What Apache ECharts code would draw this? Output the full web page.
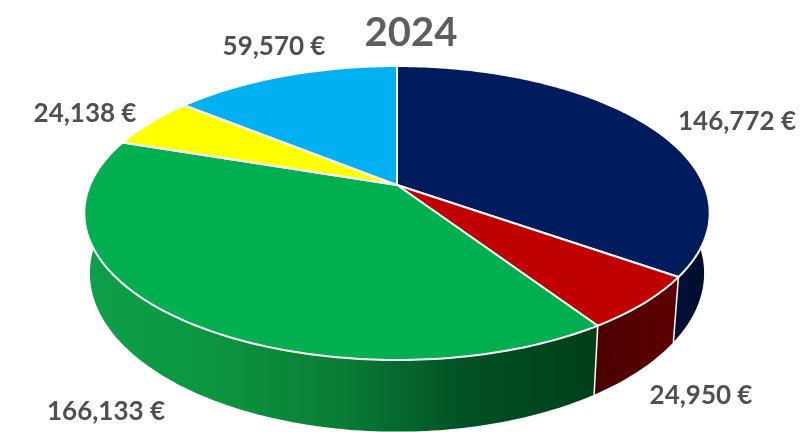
<!DOCTYPE html>
<html>
<head>
<meta charset="utf-8">
<style>html,body{margin:0;padding:0;background:#fff}#chart{width:808px;height:432px}</style>
<script src="https://cdn.jsdelivr.net/npm/echarts@6/dist/echarts.min.js"></script>
</head>
<body>
<div id="chart"></div>
<script>
// ---- data ----
const chartTitle = '2024';
const sliceNames = ['Dark blue', 'Red', 'Green', 'Yellow', 'Light blue'];
const sliceValues = [146772, 24950, 166133, 24138, 59570];
const labelTexts = ['146,772 €', '24,950 €', '166,133 €', '24,138 €', '59,570 €'];

// ---- styles ----
const topColors = ['#001c5e', '#c00000', '#00b050', '#ffff00', '#00b0f0'];
const wallStops = [
  ['#001240', '#000c28'],
  ['#4a0000', '#5e0000'],
  ['#0ea04a', '#0c953f', '#0a7d36', '#025024', '#003f18'],
  ['#b0b000', '#b0b000'],
  ['#0078a8', '#0078a8']
];
const wallSpan = [[660, 710], [595, 675], [85, 595], [85, 190], [190, 400]];
const labelPlace = [[737, 122], [701, 396], [106, 412], [85, 114], [274, 47]];
const LABEL_FONT = 'bold 26px Lato, "Open Sans", sans-serif';

// ---- oblique perspective used by the disc ----
const P = { cx: 397, cy: 185, a: 106.4, c: 307, k: -0.1905, depth: 58, shrink: 0.982 };
function topPoint(deg, r) {
  const t = deg * Math.PI / 180, x = Math.sin(t) * r, y = -Math.cos(t) * r;
  const w = 1 + P.k * y;
  return [P.cx + P.c * x / w, (P.cy + P.a * y) / w];
}
function bottomPoint(deg) {
  const t = deg * Math.PI / 180, y = -Math.cos(t);
  const w = 1 + P.k * y, p = topPoint(deg, 1);
  return [P.cx + (p[0] - P.cx) * P.shrink, p[1] + P.depth / w];
}
const total = sliceValues.reduce((s, v) => s + v, 0);
function angles(i) {
  let acc = 0;
  for (let j = 0; j < i; j++) acc += sliceValues[j];
  return [acc / total * 360, (acc + sliceValues[i]) / total * 360];
}
function arc(a0, a1, fn) {
  const n = Math.max(2, Math.ceil(Math.abs(a1 - a0)));
  const out = [];
  for (let i = 0; i <= n; i++) out.push(fn(a0 + (a1 - a0) * i / n));
  return out;
}
const VIS0 = 78, VIS1 = 282;

function renderWall(params) {
  const i = params.dataIndex;
  const [s, e] = angles(i);
  const a0 = Math.max(s, VIS0), a1 = Math.min(e, VIS1);
  if (a1 <= a0) return { type: 'group', children: [] };
  const upper = arc(a0, a1, d => topPoint(d, 1));
  const lower = arc(a0, a1, bottomPoint);
  const stops = wallStops[i];
  const children = [{
    type: 'polygon',
    shape: { points: upper.concat(lower.slice().reverse()) },
    style: {
      fill: {
        type: 'linear', global: true,
        x: wallSpan[i][0], y: 0, x2: wallSpan[i][1], y2: 0,
        colorStops: stops.map((c, n) => ({ offset: n / (stops.length - 1), color: c }))
      }
    }
  }];
  if (s > VIS0 && s < VIS1) {
    children.push({
      type: 'polyline',
      shape: { points: [topPoint(s, 1), bottomPoint(s)] },
      style: { stroke: '#fff', lineWidth: 1.5, fill: null }
    });
  }
  return { type: 'group', children };
}

function renderTop(params, api) {
  const i = params.dataIndex;
  const [s, e] = angles(i);
  const pts = [topPoint(0, 0)].concat(arc(s, e, d => topPoint(d, 1)));
  return {
    type: 'group',
    children: [{
      type: 'polygon',
      shape: { points: pts },
      style: { fill: topColors[i], stroke: '#fff', lineWidth: 2, lineJoin: 'round' }
    }, {
      type: 'text',
      style: {
        text: labelTexts[i],
        x: labelPlace[i][0], y: labelPlace[i][1],
        fill: '#505050', font: LABEL_FONT,
        align: 'center', verticalAlign: 'middle'
      }
    }]
  };
}

const seriesData = sliceNames.map((n, i) => ({ name: n, value: sliceValues[i] }));
const chart = echarts.init(document.getElementById('chart'), null, { renderer: 'canvas' });
chart.setOption({
  animation: false,
  backgroundColor: '#ffffff',
  title: {
    text: chartTitle, left: 406, top: 8, textAlign: 'center',
    textStyle: { color: '#5e5e5e', fontFamily: 'Lato, "Open Sans", sans-serif', fontWeight: 'bold', fontSize: 40 }
  },
  series: [
    { type: 'custom', coordinateSystem: 'none', silent: true, z: 1, data: seriesData, renderItem: renderWall },
    { type: 'custom', coordinateSystem: 'none', silent: true, z: 2, data: seriesData, renderItem: renderTop }
  ]
});
</script>
</body>
</html>
